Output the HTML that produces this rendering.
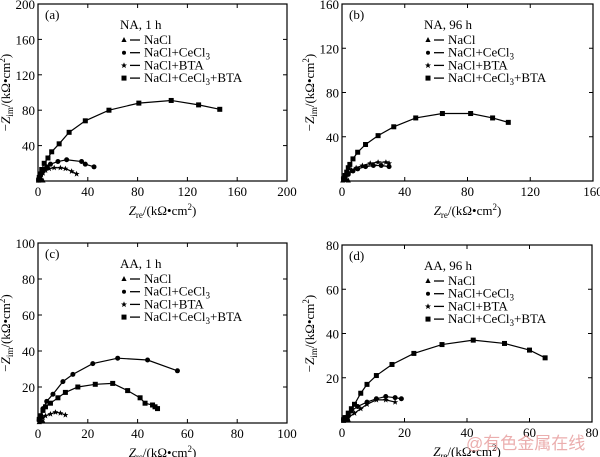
<!DOCTYPE html>
<html><head><meta charset="utf-8"><style>
body{margin:0;background:#fff}
svg{display:block;font-family:"Liberation Serif",serif;}
</style></head><body>
<svg id="s" width="600" height="457" viewBox="0 0 600 457" xmlns="http://www.w3.org/2000/svg"></svg>
<script>
const S=document.getElementById('s');let h='';
const panels=[
{x0:38,x1:287,y0:4,y1:181,xm:200,ym:200,xs:40,ys:40,lab:'(a)',t:'NA, 1 h',
 d:{sq:[[0.5,1],[1,4],[2,8],[3,13],[5,20],[8,26],[11,33],[17,42],[25,55],[38,68],[57,80],[81,88],[107,91],[129,86],[146,81]],
 ci:[[0.5,1],[1,3],[2,6],[3,9],[5,13],[7,16],[10,19],[16,22],[23,24],[35,22],[38,19],[45,16]],
 st:[[1,2],[2,5],[4,9],[6,12],[9,14],[13,15],[18,15],[22,14],[27,11],[31,8]],
 tr:[[0.5,0.5],[1,1],[2,1.5],[3,1],[4,0.5]]}},
{x0:342,x1:593,y0:4,y1:181,xm:160,ym:160,xs:40,ys:40,lab:'(b)',t:'NA, 96 h',
 d:{sq:[[1,2],[2,5],[3,8],[4,12],[5,15],[7,20],[10,26],[15,33],[23,41],[33,49],[47,57],[64,61],[82,61],[96,57],[106,53]],
 st:[[1,2],[2,4],[4,7],[6,10],[9,12],[13,14],[18,16],[23,17],[28,17],[30,16]],
 ci:[[1,2],[2,4],[4,6],[7,9],[10,11],[15,13],[20,14],[25,14],[30,13]],
 tr:[[0.5,0.5],[1,1],[2,1.5],[3,1],[4,0.5]]}},
{x0:38,x1:287,y0:243,y1:423,xm:100,ym:100,xs:20,ys:20,lab:'(c)',t:'AA, 1 h',
 d:{ci:[[0.5,2],[1,4],[2,8],[3.5,12],[6,16],[10,23],[14,27],[22,33],[32,36],[44,35],[56,29]],
 sq:[[0.5,2],[1,4],[2,7],[3,9],[5,11],[8,14],[11,17],[16,20],[23,21.5],[30,22],[36,18],[41,14],[43,11],[46,10],[47,9],[48,8]],
 st:[[0.5,1],[1,2],[2,3],[3,4],[5,5],[7,6],[9,5.5],[11,4.5]],
 tr:[[0.5,0.5],[1,1],[2,1]]}},
{x0:342,x1:592,y0:245,y1:422,xm:80,ym:80,xs:20,ys:20,lab:'(d)',t:'AA, 96 h',
 d:{sq:[[0.5,1],[1,2],[2,4],[3,6],[4,8],[6,13],[8,17],[11,21],[16,26],[23,31],[32,35],[42,37],[52,35.5],[60,32.5],[65,29]],
 ci:[[0.5,1],[1,2],[2,3],[3,5],[5,7],[8,9],[11,10.5],[14,11.5],[17,11],[19,10.5]],
 st:[[1,1],[2,2],[4,4],[6,6],[8,8],[11,10],[14,10],[17,9]],
 tr:[[0.5,0.5],[1,1],[2,1]]}}];
function mk(t,x,y){
 if(t=='sq')return `<rect x="${x-2.5}" y="${y-2.5}" width="5" height="5"/>`;
 if(t=='ci')return `<circle cx="${x}" cy="${y}" r="2.5"/>`;
 if(t=='tr')return `<polygon points="${x},${y-3} ${x-2.6},${y+2} ${x+2.6},${y+2}"/>`;
 return `<polygon points="${x},${y-3} ${x+0.9},${y-0.9} ${x+3},${y-0.9} ${x+1.3},${y+0.5} ${x+1.9},${y+2.7} ${x},${y+1.3} ${x-1.9},${y+2.7} ${x-1.3},${y+0.5} ${x-3},${y-0.9} ${x-0.9},${y-0.9}"/>`;
}
for(const p of panels){
 const X=v=>p.x0+(p.x1-p.x0)*v/p.xm, Y=v=>p.y1-(p.y1-p.y0)*v/p.ym;
 h+=`<rect x="${p.x0}" y="${p.y0}" width="${p.x1-p.x0}" height="${p.y1-p.y0}" fill="none" stroke="#000" stroke-width="1.2"/>`;
 for(let v=0;v<=p.xm;v+=p.xs){const x=X(v);h+=`<line x1="${x}" y1="${p.y1}" x2="${x}" y2="${p.y1-4}" stroke="#000"/><line x1="${x}" y1="${p.y0}" x2="${x}" y2="${p.y0+4}" stroke="#000"/><text x="${x}" y="${p.y1+15}" font-size="13" text-anchor="middle">${v}</text>`;}
 for(let v=0;v<=p.ym;v+=p.ys){const y=Y(v);h+=`<line x1="${p.x0}" y1="${y}" x2="${p.x0+4}" y2="${y}" stroke="#000"/><line x1="${p.x1}" y1="${y}" x2="${p.x1-4}" y2="${y}" stroke="#000"/>`;if(v>0)h+=`<text x="${p.x0-3}" y="${y+5}" font-size="13" text-anchor="end">${v}</text>`;}
 h+=`<text x="${p.x0-4}" y="${p.y1+15}" font-size="13" text-anchor="end"></text>`;
 const cx=(p.x0+p.x1)/2, cy=(p.y0+p.y1)/2;
 h+=`<text x="${cx}" y="${p.y1+34}" font-size="13" text-anchor="middle"><tspan font-style="italic">Z</tspan><tspan font-size="9" dy="3">re</tspan><tspan dy="-3">/(kΩ•cm</tspan><tspan font-size="9" dy="-5">2</tspan><tspan dy="5">)</tspan></text>`;
 h+=`<text transform="translate(${p.x0-28},${cy}) rotate(-90)" font-size="13" text-anchor="middle">−<tspan font-style="italic">Z</tspan><tspan font-size="9" dy="3">im</tspan><tspan dy="-3">/(kΩ•cm</tspan><tspan font-size="9" dy="-5">2</tspan><tspan dy="5">)</tspan></text>`;
 h+=`<text x="${p.x0+7}" y="${p.y0+15}" font-size="13">${p.lab}</text>`;
 const lx=p.x0+82, ly=p.y0+21;
 h+=`<text x="${lx}" y="${ly+4}" font-size="13">${p.t}</text>`;
 const leg=[['tr','NaCl'],['ci','NaCl+CeCl<tspan font-size="9" dy="3">3</tspan>'],['st','NaCl+BTA'],['sq','NaCl+CeCl<tspan font-size="9" dy="3">3</tspan><tspan dy="-3">+BTA</tspan>']];
 leg.forEach((l,i)=>{const y=ly+15+i*12.7;h+=`<g fill="#000">${mk(l[0],lx+4,y).replace(/r="2.5"/,'r="2"')}</g><line x1="${lx+10}" y1="${y}" x2="${lx+20}" y2="${y}" stroke="#000" stroke-width="1.3"/><text x="${lx+24}" y="${y+4}" font-size="13">${l[1]}</text>`;});
 for(const k of ['tr','st','ci','sq']){const pts=p.d[k].map(q=>[X(q[0]),Y(q[1])]);
  h+=`<polyline points="${pts.map(q=>q.join(',')).join(' ')}" fill="none" stroke="#000" stroke-width="1.2"/><g fill="#000">${pts.map(q=>mk(k,q[0],q[1])).join('')}</g>`;}
}
h+=`<text x="466" y="449" font-size="17" fill="#e8a0a0" font-family="'Liberation Sans','Noto Sans CJK SC',sans-serif" opacity="0.85">@有色金属在线</text>`;
S.innerHTML=h;
</script>
</body></html>
